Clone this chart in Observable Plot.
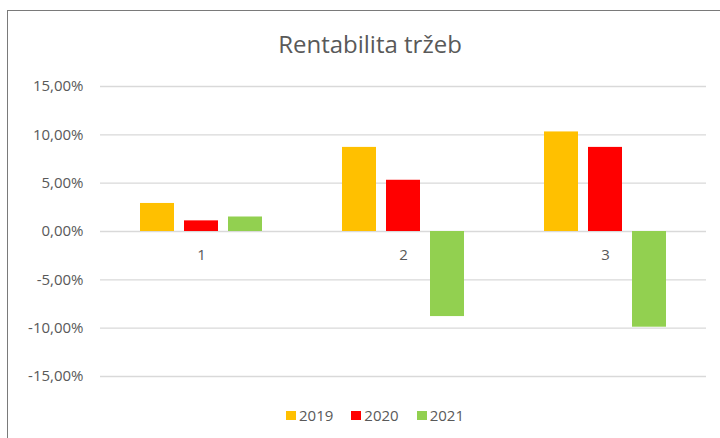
<!DOCTYPE html>
<html>
<head>
<meta charset="utf-8">
<script src="https://cdn.jsdelivr.net/npm/d3@7"></script>
<script src="https://cdn.jsdelivr.net/npm/@observablehq/plot@0.6"></script>
<style>
  html, body { margin: 0; padding: 0; background: #fff; }
  #wrap { position: relative; width: 720px; height: 438px; overflow: hidden; font-family: "Open Sans", sans-serif; }
  #frame { position: absolute; left: 7px; top: 10px; width: 740px; height: 460px; border: 1.5px solid #7a7a7a; box-sizing: border-box; }
  #title { position: absolute; left: 7px; width: 726px; top: 27px; text-align: center; font-size: 24px; line-height: 33px; color: #595959; }
  #chart { position: absolute; left: 0; top: 0; }
  #legend { position: absolute; left: 7px; width: 736px; top: 405px; display: flex; justify-content: center; gap: 18px; font-size: 15px; line-height: 20px; color: #595959; }
  .item { display: flex; align-items: center; gap: 3px; }
  .sw { width: 10px; height: 9px; display: inline-block; }
</style>
</head>
<body>
<div id="wrap">
  <div id="frame"></div>
  <div id="title">Rentabilita tržeb</div>
  <div id="chart"></div>
  <div id="legend"></div>
</div>
<script>
const categories = ["1", "2", "3"];
const years = ["2019", "2020", "2021"];
const v2019 = [2.9, 8.7, 10.3];
const v2020 = [1.1, 5.3, 8.7];
const v2021 = [1.5, -8.8, -9.9];
const colors = ["#FFC000", "#FF0000", "#92D050"];
const yTicks = [-15, -10, -5, 0, 5, 10, 15];

const series = [v2019, v2020, v2021];
const data = [];
categories.forEach((c, i) => {
  years.forEach((y, j) => data.push({cat: c, year: y, value: series[j][i]}));
});
const labels = categories.map(c => ({cat: c}));

const fmt = d => d.toFixed(2).replace(".", ",") + "%";

const chart = Plot.plot({
  width: 720,
  height: 438,
  marginTop: 86,
  marginBottom: 62,
  marginLeft: 99,
  marginRight: 13,
  style: {fontFamily: "Open Sans, sans-serif", fontSize: "15px", color: "#595959", background: "transparent"},
  fx: {domain: categories, padding: 0, axis: null, label: null},
  x: {domain: years, paddingInner: 10 / 45, paddingOuter: 0.859, axis: null},
  y: {domain: [-15, 15], ticks: yTicks, tickFormat: fmt, tickSize: 0, tickPadding: 17, label: null},
  color: {domain: years, range: colors},
  marks: [
    Plot.ruleY(yTicks, {stroke: "#d9d9d9", strokeWidth: 1.3}),
    Plot.barY(data, {fx: "cat", x: "year", y: "value", fill: "year"}),
    Plot.text(labels, {fx: "cat", y: () => 0, text: "cat", dy: 24, fill: "#595959", fontSize: 15})
  ]
});
document.getElementById("chart").appendChild(chart);

const legend = document.getElementById("legend");
years.forEach((y, i) => {
  const it = document.createElement("span");
  it.className = "item";
  const sw = document.createElement("span");
  sw.className = "sw";
  sw.style.background = colors[i];
  const t = document.createElement("span");
  t.textContent = y;
  it.appendChild(sw);
  it.appendChild(t);
  legend.appendChild(it);
});
</script>
</body>
</html>
